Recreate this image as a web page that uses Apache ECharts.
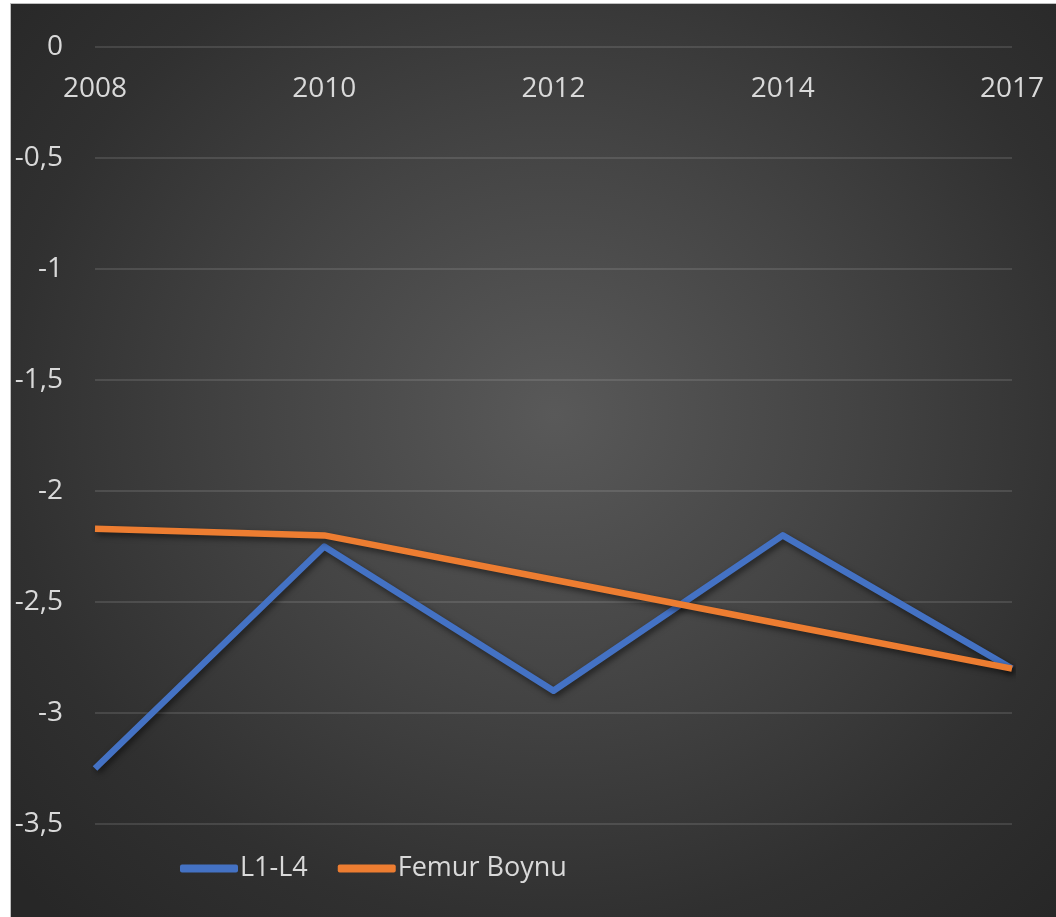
<!DOCTYPE html>
<html>
<head>
<meta charset="utf-8">
<script src="https://cdn.jsdelivr.net/npm/echarts@6/dist/echarts.min.js"></script>
<style>
  html, body { margin: 0; padding: 0; background: #ffffff; }
  #frame {
    position: absolute; left: 10px; top: 3px; width: 1046px; height: 914px;
    background: radial-gradient(ellipse 70% 75% at 52% 45%, #595959 0%, #444444 40%, #303030 75%, #272727 100%);
    border-top: 1px solid #bfbfbf; border-left: 1px solid #bfbfbf; box-sizing: border-box;
  }
  #chart { position: absolute; left: 0; top: 0; width: 1056px; height: 917px; }
</style>
</head>
<body>
<div id="frame"></div>
<div id="chart"></div>
<script>
const categories = ['2008', '2010', '2012', '2014', '2017'];
const seriesNames = ['L1-L4', 'Femur Boynu'];
const l1l4Values = [-3.25, -2.25, -2.9, -2.2, -2.8];
const femurValues = [-2.17, -2.2, -2.4, -2.6, -2.8];
const yTicks = { min: -3.5, max: 0, interval: 0.5 };

const chart = echarts.init(document.getElementById('chart'), null, { renderer: 'canvas' });
const fontFamily = '"Open Sans", "Noto Sans", sans-serif';
const textColor = '#d9d9d9';
const shadow = { shadowColor: 'rgba(0,0,0,0.55)', shadowBlur: 6, shadowOffsetX: 2, shadowOffsetY: 3 };

chart.setOption({
  backgroundColor: 'transparent',
  animation: false,
  grid: { left: 95, right: 44, top: 47, bottom: 93, containLabel: false },
  legend: {
    left: 175, top: 850,
    itemWidth: 58, itemHeight: 8, itemGap: 30,
    icon: 'roundRect',
    textStyle: { color: textColor, fontSize: 27, fontFamily: fontFamily, padding: [0, 0, 0, -3] },
    data: seriesNames
  },
  xAxis: {
    type: 'category',
    position: 'top',
    data: categories,
    boundaryGap: false,
    axisLine: { show: false },
    axisTick: { show: false },
    axisLabel: { inside: true, color: textColor, fontSize: 28, fontFamily: fontFamily, margin: 28 },
    splitLine: { show: false }
  },
  yAxis: {
    type: 'value',
    min: yTicks.min, max: yTicks.max, interval: yTicks.interval,
    axisLine: { show: false },
    axisTick: { show: false },
    axisLabel: {
      color: textColor, fontSize: 28, fontFamily: fontFamily, margin: 32,
      formatter: v => String(v).replace('.', ',')
    },
    splitLine: { lineStyle: { color: 'rgba(200,200,200,0.16)', width: 2 } }
  },
  series: [
    {
      name: seriesNames[0], type: 'line', data: l1l4Values, symbol: 'none',
      itemStyle: { color: '#4472C4' },
      lineStyle: Object.assign({ color: '#4472C4', width: 6.5, join: 'round' }, shadow)
    },
    {
      name: seriesNames[1], type: 'line', data: femurValues, symbol: 'none',
      itemStyle: { color: '#ED7D31' },
      lineStyle: Object.assign({ color: '#ED7D31', width: 6.5, join: 'round' }, shadow)
    }
  ]
});
</script>
</body>
</html>
